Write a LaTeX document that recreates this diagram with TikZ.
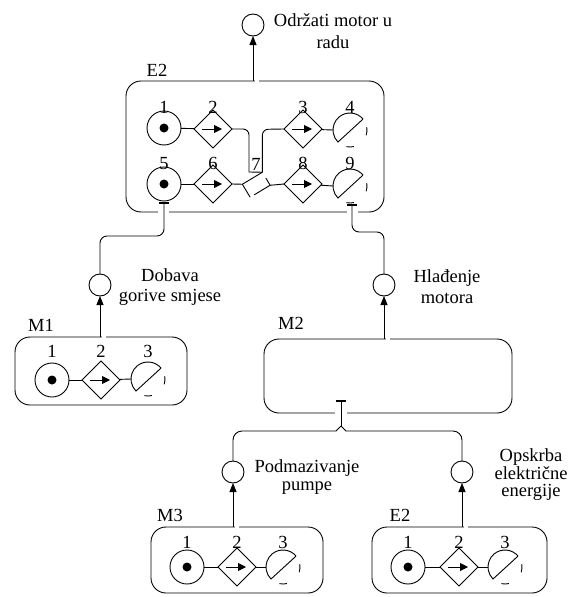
\documentclass[tikz,border=0pt]{standalone}
\usepackage{fontspec}
\setmainfont{Liberation Serif}
\usetikzlibrary{shapes.geometric,arrows.meta,calc}

% MFM sink: half circle cut by a chord, with two small leftover arc pieces
\newcommand\mfmsink[2]{%
  \node[sinkbase] (#1) at (#2) {};
  \draw (#1.40) arc[start angle=40,end angle=225,radius=17pt] -- (#1.40);
  \draw (#1.-18) arc[start angle=-18,end angle=10,radius=17pt];
  \draw (#1.258) arc[start angle=258,end angle=283,radius=17pt];}

\begin{document}
\begin{tikzpicture}[x=1pt,y=1pt,line width=0.9pt,
  txt/.style={font=\rmfamily\fontsize{18.5}{22}\selectfont, inner sep=0pt},
  num/.style={txt, anchor=base},
  src/.style={circle, draw, minimum size=34pt, inner sep=0pt, outer sep=0pt,
    path picture={\fill (path picture bounding box.center) circle (4.5pt);}},
  trans/.style={diamond, draw, minimum size=38pt, inner sep=0pt, outer sep=0pt,
    path picture={\draw[-{Triangle[length=8pt,width=8pt]}]
      ([xshift=-11pt]path picture bounding box.center) --
      ([xshift=9pt]path picture bounding box.center);}},
  sinkbase/.style={circle, minimum size=34pt, inner sep=0pt, outer sep=0pt},
  goal/.style={circle, draw, minimum size=22pt, inner sep=0pt, outer sep=0pt},
  box/.style={draw, rounded corners=15pt, inner sep=0pt, outer sep=0pt},
  flow/.style={-{Triangle[length=9pt,width=7pt]}},
  gap/.style={white, line width=2pt},
  tick/.style={line width=1.4pt},
]
\useasboundingbox (0,0) rectangle (570,-597);

% ---------- goals ----------
\node[goal] (g1) at (253,-25) {};
\node[goal] (g2) at (100,-285) {};
\node[goal] (g3) at (384,-285) {};
\node[goal] (g4) at (233,-472) {};
\node[goal] (g5) at (462,-472) {};

\node[txt, align=center] (tg1) at (333,-31) {Održati motor u\\radu};
\node[txt, align=center, font=\rmfamily\fontsize{18.5}{20.7}\selectfont] (tg2) at (170,-287) {Dobava\\gorive smjese};
\node[txt, align=center, font=\rmfamily\fontsize{18.5}{20.7}\selectfont] (tg3) at (447,-287) {Hlađenje\\motora};
\node[txt, align=center, font=\rmfamily\fontsize{18.5}{17.7}\selectfont] (tg4) at (307,-477) {Podmazivanje\\pumpe};
\node[txt, align=center, font=\rmfamily\fontsize{18.5}{17.5}\selectfont] (tg5) at (531,-475) {Opskrba\\električne\\energije};

% ---------- boxes ----------
\node[box, minimum width=258pt, minimum height=131pt] (E2) at (255,-146.5) {};
\node[box, minimum width=172pt, minimum height=68pt] (M1) at (101,-371) {};
\node[box, minimum width=248pt, minimum height=74pt] (M2) at (388,-376) {};
\node[box, minimum width=172pt, minimum height=66pt] (M3) at (237,-560) {};
\node[box, minimum width=175pt, minimum height=66pt] (E2b) at (459.5,-560) {};

\node[txt] (lE2) at (157,-70) {E2};
\node[txt] (lM1) at (41,-325) {M1};
\node[txt] (lM2) at (291,-323) {M2};
\node[txt] (lM3) at (170,-515) {M3};
\node[txt] (lE2b) at (400,-515) {E2};

% gaps in the box borders where the flow lines pass
\draw[gap] (254.5,-81) -- (258.5,-81);
\draw[gap] (101.5,-337) -- (105.5,-337);
\draw[gap] (385.5,-339) -- (390,-339);
\draw[gap] (234.5,-527) -- (238.5,-527);
\draw[gap] (463.5,-527) -- (467.5,-527);
\draw[gap] (158,-212) -- (169,-212);
\draw[gap] (347,-212) -- (358,-212);
\draw[gap] (335,-413) -- (347,-413);

% ---------- E2 structure ----------
\node[src]   (a1) at (164,-128) {};
\node[trans] (a2) at (213,-129) {};
\node[trans] (a3) at (303,-129) {};
\mfmsink{a4}{350,-130}
\node[src]   (a5) at (164,-184) {};
\node[trans] (a6) at (213,-184) {};
\node[trans] (a8) at (303,-184) {};
\mfmsink{a9}{350,-186}
\node[rotate=31, minimum width=23.3pt, minimum height=15.2pt, inner sep=0pt, outer sep=0pt] (a7) at (256.25,-184.75) {};
\draw (a7.north west) -- (a7.north east);
\draw ($(a7.north east)!0.45!(a7.south east)$) -- (a7.south east) -- ($(a7.south east)!0.8!(a7.south west)$);
\draw (a7.north west) -- (a7.south west);

\foreach \n/\x in {1/164,2/213,3/303,4/350}
  \node[num] (na\n) at (\x,-113) {\n};
\foreach \n/\x in {5/164,6/213,8/303,9/350}
  \node[num] (na\n) at (\x,-169) {\n};
\node[num] (na7) at (256,-170) {7};

\draw (a1) -- (a2);
\draw (a3) -- (a4.west);
\draw (a5) -- (a6);
\draw (a8) -- (a9.west);
\draw (a6.east) -- (a7.north west);
\draw (a7.south east) -- (a8.west);
\draw (a2.east) -- (243,-129) arc[start angle=90,end angle=0,radius=6pt]
  -- (249,-172) -- (a7.north east) -- ++(0,37) arc[start angle=180,end angle=90,radius=6pt]
  -- (a3.west);

% ---------- M1 ----------
\begin{scope}[shift={(52,-380)}]
  \node[src] (b1) at (0,0) {};
  \node[trans] (b2) at (49,0) {};
  \mfmsink{b3}{96,1}
  \node[num] (nb1) at (0,23) {1};
  \node[num] (nb2) at (49,23) {2};
  \node[num] (nb3) at (96,23) {3};
\end{scope}
\draw (b1) -- (b2);
\draw (b2) -- (b3.west);

% ---------- M3 ----------
\begin{scope}[shift={(187,-567)}]
  \node[src] (c1) at (0,0) {};
  \node[trans] (c2) at (50,0) {};
  \mfmsink{c3}{96,0}
  \node[num] (nc1) at (0,19) {1};
  \node[num] (nc2) at (50,19) {2};
  \node[num] (nc3) at (96,19) {3};
\end{scope}
\draw (c1) -- (c2);
\draw (c2) -- (c3.west);

% ---------- E2 (lower) ----------
\begin{scope}[shift={(408,-567)}]
  \node[src] (d1) at (0,0) {};
  \node[trans] (d2) at (51,0) {};
  \mfmsink{d3}{97,0}
  \node[num] (nd1) at (0,19) {1};
  \node[num] (nd2) at (51,19) {2};
  \node[num] (nd3) at (97,19) {3};
\end{scope}
\draw (d1) -- (d2);
\draw (d2) -- (d3.west);

% ---------- flows between levels ----------
\draw[flow] (E2.north -| g1) -- (g1.south);
\draw[flow] (M1.north -| g2) -- (g2.south);
\draw[flow] (M2.north -| g3) -- (g3.south);
\draw[flow] (M3.north -| g4) -- (g4.south);
\draw[flow] (E2b.north -| g5) -- (g5.south);

\coordinate (t5) at (164,-203);
\coordinate (t9) at (352,-205);
\coordinate (tm) at (341,-401);
\draw[tick] (159,-203) -- (169,-203);
\draw[tick] (347,-205) -- (357,-205);
\draw[tick] (336,-401) -- (346,-401);

\draw[rounded corners=7pt] (t5) -- (164,-236) -- (100,-236) -- (g2.north);
\draw[rounded corners=7pt] (t9) -- (352,-232) -- (384,-232) -- (g3.north);
\draw (tm) -- (341,-426) coordinate (fork);
\draw (fork) -- (336,-431);
\draw (fork) -- (346,-431);
\draw[rounded corners=9pt] (336,-431) -- (233,-431) -- (g4.north);
\draw[rounded corners=9pt] (346,-431) -- (462,-431) -- (g5.north);

\end{tikzpicture}
\end{document}
